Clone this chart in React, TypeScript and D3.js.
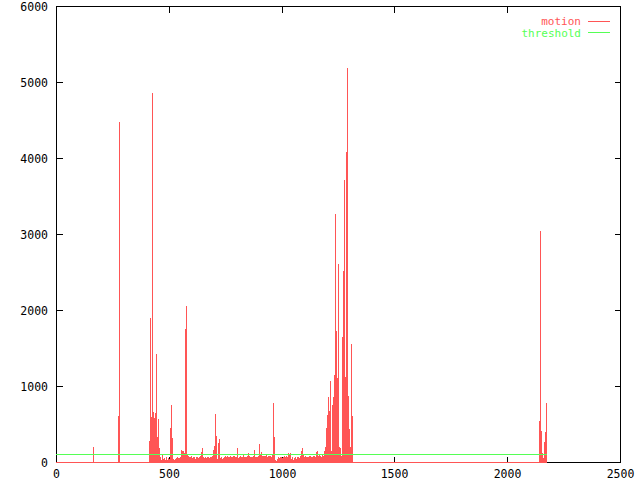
import React from "react";
import * as d3 from "d3";

// ---- data ----
const xTicks = [0, 500, 1000, 1500, 2000, 2500];
const yTicks = [0, 1000, 2000, 3000, 4000, 5000, 6000];

// isolated motion impulses (frame, value)
const isolatedFrames = [164, 275, 277, 279];
const isolatedValues = [200, 600, 600, 4470];

// dense block of motion samples, one sample every ~4.43 frames from frame 412
const denseStartFrame = 412;
const frameStep = 4.43;
const denseValues = [
  280, 1900, 596, 4860, 655, 578, 640, 1420, 330, 565,
  180, 70, 26, 92, 35, 50, 20, 60, 20, 50,
  40, 450, 750, 320, 35, 26, 35, 50, 60, 48,
  50, 60, 160, 140, 150, 120, 1750, 2050, 90, 80,
  70, 60, 75, 55, 70, 60, 45, 65, 70, 50,
  60, 80, 135, 185, 70, 55, 65, 50, 70, 60,
  55, 70, 65, 80, 160, 210, 630, 340, 40, 250,
  300, 50, 70, 40, 50, 70, 75, 60, 75, 65,
  70, 85, 60, 70, 85, 75, 65, 70, 180, 55,
  65, 75, 70, 60, 90, 65, 70, 60, 80, 120,
  75, 65, 70, 60, 80, 160, 70, 65, 60, 80,
  235, 90, 130, 80, 75, 85, 80, 90, 70, 80,
  75, 85, 70, 90, 780, 330, 26, 13, 45, 60,
  50, 65, 60, 55, 70, 75, 65, 80, 70, 120,
  90, 120, 45, 70, 30, 50, 60, 45, 60, 70,
  55, 80, 150, 185, 90, 70, 75, 65, 70, 60,
  75, 80, 70, 60, 75, 80, 60, 135, 140, 80,
  95, 80, 70, 90, 80, 150, 200, 450, 620, 860,
  670, 1065, 150, 750, 860, 1150, 3265, 1720, 1100, 2605,
  200, 180, 80, 1645, 2510, 3710, 1120, 4080, 5185, 870,
  430, 200, 1550, 605,
];

// final burst of motion samples
const tailStartFrame = 2141;
const tailValues = [540, 3040, 410, 120, 57, 267, 395, 780];

const lastFrame = 2172;
const threshold = 100;

const RED = "#ff5555";
const GREEN = "#55ff55";
const FONT = "'DejaVu Sans Mono', monospace";

export default function App() {
  const W = 640;
  const H = 480;
  const left = 56, right = 620, top = 6, bottom = 462;

  const x = d3.scaleLinear().domain([0, 2500]).range([left, right]);
  const y = d3.scaleLinear().domain([0, 6000]).range([bottom, top]);

  type Pt = { f: number; v: number };
  const pts: Pt[] = [];
  isolatedFrames.forEach((f, i) => pts.push({ f, v: isolatedValues[i] }));
  denseValues.forEach((v, i) => pts.push({ f: denseStartFrame + i * frameStep, v }));
  tailValues.forEach((v, i) => pts.push({ f: tailStartFrame + i * frameStep, v }));

  const thrY = Math.round(y(threshold)) + 0.5;
  const tick = 6;

  return (
    <svg
      width={W}
      height={H}
      style={{ position: "absolute", left: 0, top: 0, background: "#fff" }}
      fontFamily={FONT}
      fontSize={11.5}
    >
      <rect x={0} y={0} width={W} height={H} fill="#fff" />
      {/* border */}
      <rect
        x={left + 0.5}
        y={top + 0.5}
        width={right - left}
        height={bottom - top}
        fill="none"
        stroke="#000"
        strokeWidth={1}
        shapeRendering="crispEdges"
      />
      {/* x ticks */}
      {xTicks.map((t) => {
        const px = Math.round(x(t)) + 0.5;
        return (
          <g key={"xt" + t}>
            <line x1={px} x2={px} y1={bottom + 0.5} y2={bottom + 0.5 - tick} stroke="#000" shapeRendering="crispEdges" />
            <line x1={px} x2={px} y1={top + 0.5} y2={top + 0.5 + tick} stroke="#000" shapeRendering="crispEdges" />
            <text x={px} y={474} textAnchor="middle" dy="0.35em" fill="#000">
              {t}
            </text>
          </g>
        );
      })}
      {/* y ticks */}
      {yTicks.map((t) => {
        const py = Math.round(y(t)) + 0.5;
        return (
          <g key={"yt" + t}>
            <line x1={left + 0.5} x2={left + 0.5 + tick} y1={py} y2={py} stroke="#000" shapeRendering="crispEdges" />
            <line x1={right + 0.5} x2={right + 0.5 - tick} y1={py} y2={py} stroke="#000" shapeRendering="crispEdges" />
            <text x={48} y={py} textAnchor="end" dy="0.35em" fill="#000">
              {t}
            </text>
          </g>
        );
      })}
      {/* motion impulses */}
      <g fill={RED} shapeRendering="crispEdges">
        {pts.map((p, i) => {
          const px = Math.round(x(p.f));
          const py = Math.round(y(p.v));
          return <rect key={i} x={px} y={py} width={1} height={bottom - py} />;
        })}
      </g>
      {/* zero-height impulses form a line along the bottom */}
      <line
        x1={x(0)}
        x2={Math.round(x(lastFrame)) + 1}
        y1={bottom + 0.5}
        y2={bottom + 0.5}
        stroke={RED}
        shapeRendering="crispEdges"
      />
      {/* threshold */}
      <line
        x1={x(0)}
        x2={Math.round(x(lastFrame)) + 1}
        y1={thrY}
        y2={thrY}
        stroke={GREEN}
        shapeRendering="crispEdges"
      />
      {/* legend */}
      <g fontSize={11}>
        <text x={581} y={21} textAnchor="end" dy="0.35em" fill={RED}>
          motion
        </text>
        <line x1={588} x2={610} y1={21.5} y2={21.5} stroke={RED} shapeRendering="crispEdges" />
        <text x={581} y={33} textAnchor="end" dy="0.35em" fill={GREEN}>
          threshold
        </text>
        <line x1={588} x2={610} y1={32.5} y2={32.5} stroke={GREEN} shapeRendering="crispEdges" />
      </g>
    </svg>
  );
}
